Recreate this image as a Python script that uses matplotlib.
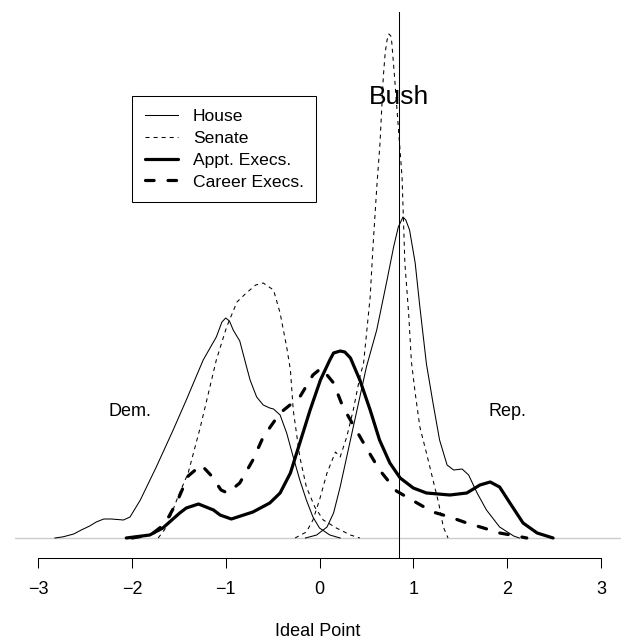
import matplotlib
matplotlib.use("Agg")
import matplotlib.pyplot as plt

plt.rcParams['font.family'] = ['Liberation Sans', 'DejaVu Sans']
plt.rcParams['lines.scale_dashes'] = False

# density estimates (ideal point, density)
house_dem_x = [-2.82, -2.73, -2.62, -2.54, -2.45, -2.38, -2.30, -2.22, -2.09, -2.02, -1.91, -1.74,
               -1.56, -1.42, -1.24, -1.10, -1.04, -1.00, -0.96, -0.92, -0.85, -0.78, -0.74, -0.67,
               -0.60, -0.53, -0.49, -0.42, -0.35, -0.28, -0.21, -0.14, -0.07, 0.00, 0.11, 0.22]
house_dem_y = [0, .005, .016, .032, .048, .064, .076, .076, .072, .084, .152, .284,
               .432, .552, .712, .804, .864, .880, .868, .832, .788, .688, .632, .564,
               .532, .520, .516, .492, .420, .324, .232, .152, .084, .040, .012, 0]

house_rep_x = [-0.15, -0.03, 0.08, 0.15, 0.22, 0.29, 0.36, 0.43, 0.50, 0.61, 0.72, 0.79, 0.84,
               0.89, 0.92, 0.96, 1.02, 1.07, 1.14, 1.21, 1.28, 1.36, 1.43, 1.52, 1.59, 1.68,
               1.78, 1.92, 2.07, 2.13]
house_rep_y = [0, .012, .044, .100, .204, .324, .444, .564, .684, .832, 1.032, 1.164, 1.244,
               1.284, 1.272, 1.232, 1.100, .924, .696, .540, .392, .292, .272, .276, .252, .180,
               .112, .044, .008, 0]

senate_dem_x = [-1.72, -1.63, -1.51, -1.40, -1.27, -1.10, -0.99, -0.88, -0.78, -0.68, -0.60, -0.49,
                -0.42, -0.35, -0.31, -0.28, -0.21, -0.14, -0.05, 0.04, 0.18, 0.33, 0.43]
senate_dem_y = [0, .044, .164, .260, .444, .712, .844, .944, .980, 1.012, 1.020, .992,
                .900, .764, .672, .512, .324, .204, .124, .072, .040, .012, 0]

senate_rep_x = [-0.26, -0.14, -0.07, 0.00, 0.08, 0.17, 0.22, 0.29, 0.36, 0.43, 0.47, 0.54, 0.57,
                0.61, 0.645, 0.68, 0.70, 0.72, 0.74, 0.76, 0.77, 0.80, 0.84, 0.88, 0.91, 0.95,
                0.98, 1.02, 1.07, 1.14, 1.21, 1.27, 1.32, 1.37]
senate_rep_y = [0, .024, .072, .152, .260, .344, .324, .404, .512, .644, .700, .964, 1.164,
                1.400, 1.580, 1.844, 1.940, 1.992, 2.016, 2.008, 1.984, 1.844, 1.644, 1.444, 1.100,
                .900, .704, .580, .444, .340, .232, .140, .044, 0]

appt_x = [-2.06, -1.81, -1.67, -1.49, -1.42, -1.29, -1.13, -1.06, -0.94, -0.71, -0.53, -0.42,
          -0.31, -0.21, -0.10, 0.01, 0.11, 0.15, 0.22, 0.27, 0.33, 0.43, 0.54, 0.64, 0.75, 0.86,
          1.00, 1.14, 1.39, 1.57, 1.71, 1.82, 1.92, 2.03, 2.17, 2.32, 2.49]
appt_y = [0, .012, .040, .100, .120, .136, .112, .092, .076, .104, .140, .180,
          .260, .380, .512, .632, .712, .740, .748, .744, .720, .632, .512, .392, .300, .240,
          .200, .180, .172, .180, .212, .224, .204, .140, .060, .020, 0]

career_x = [-2.00, -1.80, -1.65, -1.52, -1.40, -1.26, -1.15, -1.05, -0.98, -0.85, -0.71, -0.60,
            -0.42, -0.21, -0.07, 0.02, 0.15, 0.25, 0.36, 0.50, 0.64, 0.82, 1.04, 1.21, 1.39, 1.57,
            1.75, 1.92, 2.10, 2.21]
career_y = [0, .012, .056, .144, .248, .292, .248, .192, .180, .220, .312, .404,
            .500, .564, .652, .680, .620, .524, .452, .360, .272, .188, .140, .104, .084, .060,
            .040, .020, .008, 0]

bush = 0.85
xticks = [-3, -2, -1, 0, 1, 2, 3]

fig = plt.figure(figsize=(6.21, 6.41), dpi=100)
ax = fig.add_axes([15 / 621, 83 / 641, 606 / 621, 546 / 641])

thin = 0.75
thick = 2.3
thin_dash = (2.9, 2.9)
thick_dash = (6.2, 10.0)

ax.axhline(0, color='#cccccc', lw=1.0, zorder=1)

ax.plot(house_dem_x, house_dem_y, color='black', lw=thin, label='House')
ax.plot(house_rep_x, house_rep_y, color='black', lw=thin)
ax.plot(senate_dem_x, senate_dem_y, color='black', lw=thin, dashes=thin_dash, label='Senate')
ax.plot(senate_rep_x, senate_rep_y, color='black', lw=thin, dashes=thin_dash)
ax.plot(appt_x, appt_y, color='black', lw=thick, solid_capstyle='round', label='Appt. Execs.')
ax.plot(career_x, career_y, color='black', lw=thick, dashes=thick_dash,
        dash_capstyle='round', label='Career Execs.')

ax.axvline(bush, color='black', lw=thin)
ax.text(bush, 1.764, 'Bush', fontsize=19, ha='center', va='center')
ax.text(-2.02, 0.504, 'Dem.', fontsize=13, ha='center', va='center')
ax.text(2.0, 0.508, 'Rep.', fontsize=13, ha='center', va='center')

ax.set_xlim(-3.246, 3.214)
ax.set_ylim(-0.08, 2.104)

for s in ['left', 'top', 'right']:
    ax.spines[s].set_visible(False)
ax.spines['bottom'].set_bounds(-3, 3)
ax.spines['bottom'].set_linewidth(thin)
ax.set_yticks([])
ax.set_xticks(xticks)
ax.tick_params(axis='x', direction='out', length=7.2, width=thin, pad=9, labelsize=13)
ax.set_xlabel('Ideal Point', fontsize=13, labelpad=18.5)

leg = ax.legend(loc='upper left', bbox_to_anchor=(132 / 621, 1 - 96 / 641),
                bbox_transform=fig.transFigure, borderaxespad=0, fontsize=12.6,
                handlelength=1.9, handletextpad=0.85, labelspacing=0.38,
                borderpad=0.72, fancybox=False, framealpha=1)
leg.get_frame().set_edgecolor('black')
leg.get_frame().set_linewidth(thin)

plt.savefig('out.png', dpi=100)
plt.close()
